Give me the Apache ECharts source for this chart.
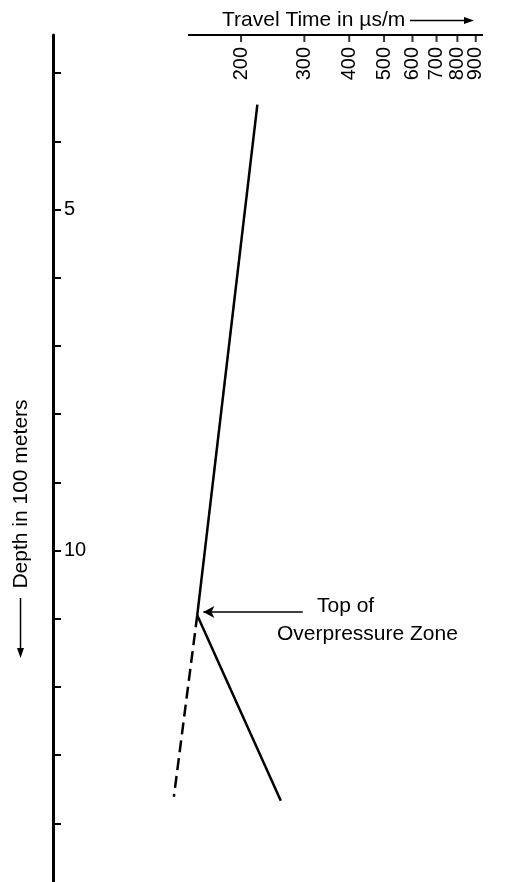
<!DOCTYPE html>
<html>
<head>
<meta charset="utf-8">
<script src="https://cdn.jsdelivr.net/npm/echarts@6/dist/echarts.min.js"></script>
<style>
html,body{margin:0;padding:0;background:#fff;}
#chart{width:532px;height:882px;}
</style>
</head>
<body>
<div id="chart"></div>
<script>
// Travel time tick values (µs/m, log scale)
const travelTicks = [200, 300, 400, 500, 600, 700, 800, 900];
// Depth ticks (hundreds of meters)
const depthTicks = [3, 4, 5, 6, 7, 8, 9, 10, 11, 12, 13, 14];
const depthLabels = [5, 10];
// Normal compaction trend (travel time, depth)
const normalTrend = [[222, 3.46], [151, 10.95]];
// Overpressured zone trend
const overpressureTrend = [[151, 10.95], [258, 13.67]];
// Extrapolated normal trend (dashed)
const normalExtrapolated = [[151, 10.95], [130, 13.61]];
// Annotation arrow (tail -> head)
const annotationArrow = [[297, 10.9], [157, 10.9]];
// Visible extent of the travel-time axis line
const travelAxisLine = [142.3, 942.8];
const depthRange = [2.44, 14.86];

const FONT = 'Liberation Sans, Arial, sans-serif';
const chart = echarts.init(document.getElementById('chart'));

// Tick labels are split over two identical overlaid axes so that the
// closely spaced labels are not auto-hidden.
const labelsA = travelTicks.filter((v, i) => i % 2 === 0);
const labelsB = travelTicks.filter((v, i) => i % 2 === 1);

function travelAxis(labels) {
  return {
    type: 'log',
    position: 'top',
    offset: 0,
    min: 125.2,
    max: travelAxisLine[1],
    splitLine: { show: false },
    minorTick: { show: false },
    axisLine: { show: false },
    axisTick: { show: false },
    axisLabel: { show: true, inside: true, rotate: -90, margin: 12, hideOverlap: false, showMinLabel: true, showMaxLabel: true, color: '#000', fontSize: 20, fontFamily: FONT, customValues: labels }
  };
}

chart.setOption({
  backgroundColor: '#fff',
  animation: false,
  grid: { left: 168, right: 49, top: 35, bottom: 0 },
  xAxis: [travelAxis(labelsA), travelAxis(labelsB)],
  yAxis: {
    type: 'value',
    inverse: true,
    min: depthRange[0],
    max: depthRange[1],
    position: 'left',
    offset: 115,
    splitLine: { show: false },
    axisLine: { show: true, lineStyle: { color: '#000', width: 3 } },
    axisTick: { show: true, inside: true, length: 8, lineStyle: { color: '#000', width: 2 }, customValues: depthTicks },
    axisLabel: { show: true, inside: true, margin: 11, color: '#000', fontSize: 20, fontFamily: FONT, customValues: depthLabels }
  },
  series: [
    {
      type: 'line', data: normalTrend, symbol: 'none', clip: false,
      lineStyle: { color: '#000', width: 2.5 },
      markLine: {
        silent: true, symbol: ['none', 'arrow'], symbolSize: [9, 11],
        label: { show: false },
        lineStyle: { color: '#000', width: 1.5, type: 'solid' },
        data: [[{ coord: annotationArrow[0] }, { coord: annotationArrow[1] }]]
      }
    },
    { type: 'line', data: overpressureTrend, symbol: 'none', clip: false, lineStyle: { color: '#000', width: 2.5 } },
    { type: 'line', data: normalExtrapolated, symbol: 'none', clip: false, lineStyle: { color: '#000', width: 2.5, type: [12, 6] } },
    {
      type: 'scatter', clip: false, silent: true,
      data: travelTicks.map(v => [v, depthRange[0]]),
      symbol: 'rect', symbolSize: [2, 7], symbolOffset: [0, 3.5],
      itemStyle: { color: '#000' }
    }
  ]
});

const ax0 = chart.convertToPixel({ xAxisIndex: 0 }, travelAxisLine[0]);
const ax1 = chart.convertToPixel({ xAxisIndex: 0 }, travelAxisLine[1]);
const ay = chart.convertToPixel({ yAxisIndex: 0 }, depthRange[0]);

chart.setOption({
  graphic: [
    { type: 'line', shape: { x1: ax0, y1: ay, x2: ax1, y2: ay }, style: { stroke: '#000', lineWidth: 2 } },
    { type: 'text', x: 222, y: 20, style: { text: 'Travel Time in µs/m', fontSize: 21, fontFamily: FONT, fill: '#000', align: 'left', verticalAlign: 'middle' } },
    { type: 'line', shape: { x1: 410, y1: 20.5, x2: 465, y2: 20.5 }, style: { stroke: '#000', lineWidth: 1.5 } },
    { type: 'polygon', shape: { points: [[474, 20.5], [464, 17], [464, 24]] }, style: { fill: '#000' } },
    { type: 'text', x: 21, y: 494, rotation: Math.PI / 2, style: { text: 'Depth in 100 meters', fontSize: 21, fontFamily: FONT, fill: '#000', align: 'center', verticalAlign: 'middle' } },
    { type: 'line', shape: { x1: 20.5, y1: 598, x2: 20.5, y2: 650 }, style: { stroke: '#000', lineWidth: 1.5 } },
    { type: 'polygon', shape: { points: [[20.5, 658], [17, 648], [24, 648]] }, style: { fill: '#000' } },
    { type: 'text', x: 317, y: 606, style: { text: 'Top of', fontSize: 21, fontFamily: FONT, fill: '#000', align: 'left', verticalAlign: 'middle' } },
    { type: 'text', x: 277, y: 634, style: { text: 'Overpressure Zone', fontSize: 21, fontFamily: FONT, fill: '#000', align: 'left', verticalAlign: 'middle' } }
  ]
});
</script>
</body>
</html>
